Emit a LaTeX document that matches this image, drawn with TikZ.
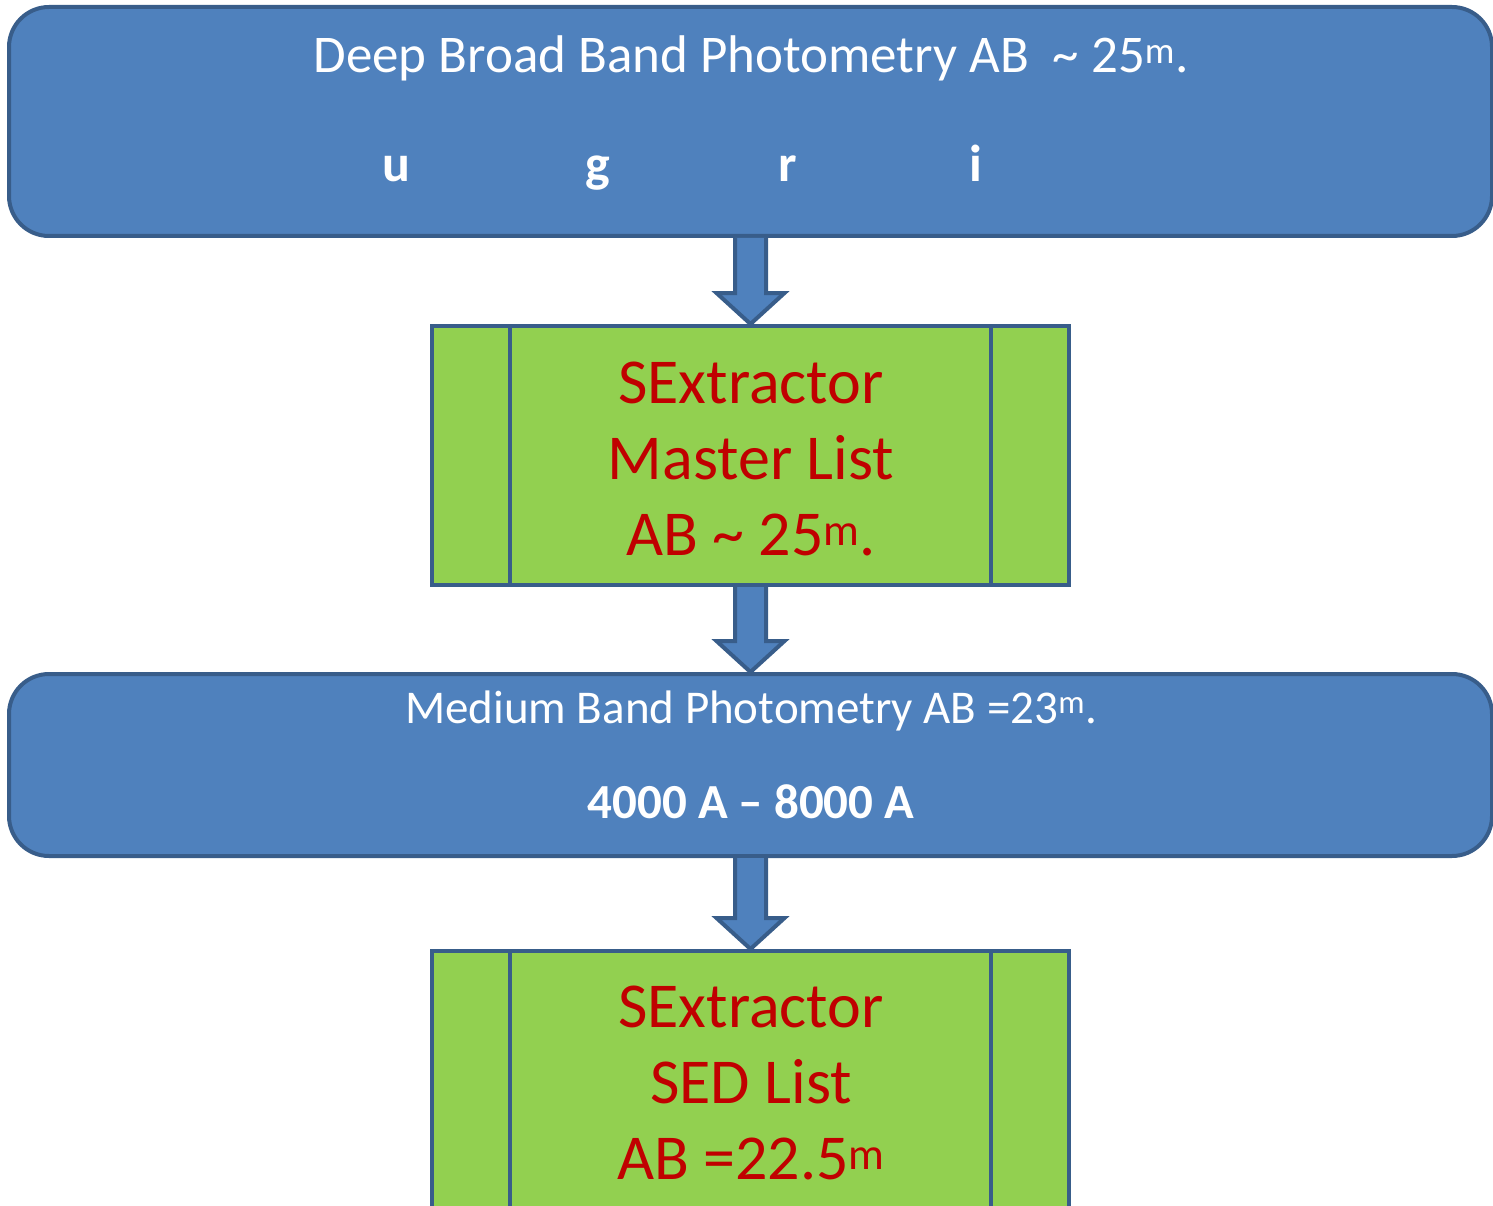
\documentclass[tikz,border=0pt]{standalone}
\usepackage{fontspec}
\setmainfont{Carlito}
\usetikzlibrary{calc}
\definecolor{boxblue}{HTML}{4F81BD}
\definecolor{edgeblue}{HTML}{385D8A}
\definecolor{boxgreen}{HTML}{92D050}
\definecolor{textred}{HTML}{C00000}
\tikzset{
  bluebox/.style={draw=edgeblue, line width=4pt, fill=boxblue, rounded corners=40pt, minimum width=1483pt, inner sep=0pt},
  greenbox/.style={draw=edgeblue, line width=4pt, fill=boxgreen, minimum width=637pt, minimum height=259pt, inner sep=0pt},
  edgeline/.style={draw=edgeblue, line width=4pt},
  blockarrow/.style={draw=edgeblue, line width=4pt, fill=boxblue, line join=miter},
  wtext/.style={text=white, anchor=base, inner sep=0pt},
  rtext/.style={text=textred, anchor=base, inner sep=0pt, font=\fontsize{64}{76}\selectfont},
}
\begin{document}
\begin{tikzpicture}[x=1pt,y=-1pt]
\useasboundingbox (0,0) rectangle (1493,1206);
\clip (0,0) rectangle (1493,1206);
% boxes
\node[bluebox, minimum height=229pt] (deep) at (750.5,121.5) {};
\node[greenbox] (mlist) at (750.5,455.5) {};
\node[bluebox, minimum height=182pt] (medium) at (750.5,765) {};
\node[greenbox] (sed) at (750.5,1080.5) {};
% inner lines of the green boxes
\draw[edgeline] ($(mlist.north west)+(80,0)$) -- ($(mlist.south west)+(80,0)$);
\draw[edgeline] ($(mlist.north east)+(-80,0)$) -- ($(mlist.south east)+(-80,0)$);
\draw[edgeline] ($(sed.north west)+(80,0)$) -- ($(sed.south west)+(80,0)$);
\draw[edgeline] ($(sed.north east)+(-80,0)$) -- ($(sed.south east)+(-80,0)$);
% block arrows
\foreach \a/\b in {deep/mlist, mlist/medium, medium/sed}{
  \draw[blockarrow] ($(\a.south)+(-15.5,0)$) -- ($(\b.north)+(-15.5,-31)$) -- ($(\b.north)+(-34,-31)$)
    -- (\b.north) -- ($(\b.north)+(34,-31)$) -- ($(\b.north)+(15.5,-31)$) -- ($(\a.south)+(15.5,0)$);
}
% texts
\node[wtext, font=\fontsize{53}{64}\selectfont] (t1) at (751,73) {Deep Broad Band Photometry AB\ \ \textasciitilde{} 25\textsuperscript{m}.};
\node[wtext, font=\bfseries\fontsize{52}{62}\selectfont] (tu) at (396,182) {u};
\node[wtext, font=\bfseries\fontsize{52}{62}\selectfont] (tg) at (598,182) {g};
\node[wtext, font=\bfseries\fontsize{52}{62}\selectfont] (tr) at (788,182) {r};
\node[wtext, font=\bfseries\fontsize{52}{62}\selectfont] (ti) at (976,182) {i};
\node[rtext] (m1) at (751,403) {SExtractor};
\node[rtext] (m2) at (751,479) {Master List};
\node[rtext] (m3) at (751,555) {AB \textasciitilde{} 25\textsuperscript{m}.};
\node[wtext, font=\fontsize{47}{56}\selectfont] (t2) at (751,723) {Medium Band Photometry AB =23\textsuperscript{m}.};
\node[wtext, font=\bfseries\fontsize{49}{58}\selectfont] (t3) at (751,818) {4000 A -- 8000 A};
\node[rtext] (s1) at (751,1027) {SExtractor};
\node[rtext] (s2) at (751,1103) {SED List};
\node[rtext] (s3) at (751,1179) {AB =22.5\textsuperscript{m}};
\end{tikzpicture}
\end{document}
